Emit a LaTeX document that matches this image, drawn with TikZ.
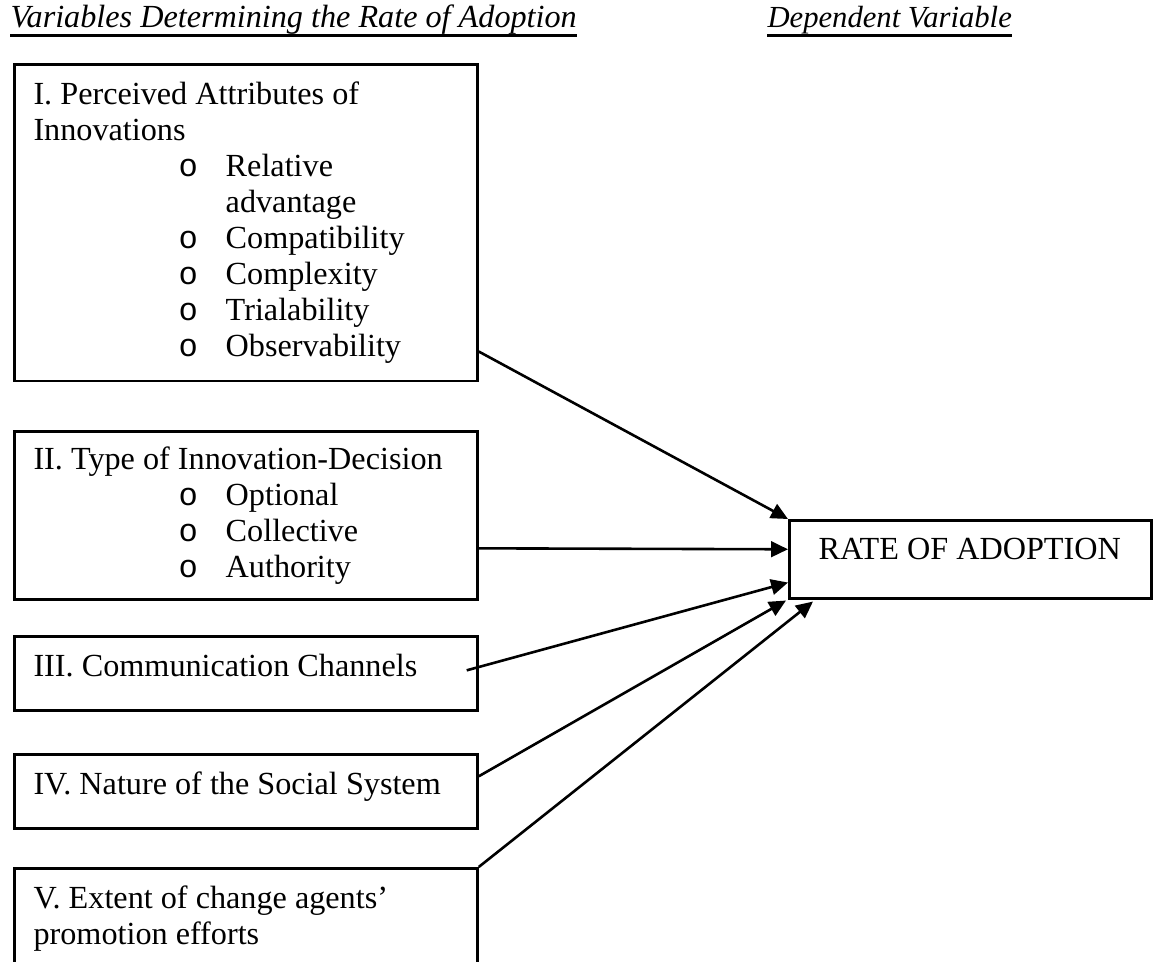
\documentclass[tikz,border=0pt]{standalone}
\usepackage{fontspec}
\setmainfont{Liberation Serif}
\newfontfamily\bulfont{Liberation Mono}
\usepackage{tikz}
\usetikzlibrary{positioning,calc,arrows.meta}
% one unit = one pixel of the layout
\newcommand{\itm}[1]{\hspace*{55.9pt}\makebox[18.1pt][l]{\bulfont o}#1}
\newcommand{\itmcont}[1]{\hspace*{74pt}#1}
\tikzset{
  varbox/.style={draw=black, line width=1pt, minimum width=178.3pt, anchor=north west, inner sep=0pt},
  boxtext/.style={anchor=north west, inner sep=0pt, align=left, font=\fontsize{12.4}{13.85}\selectfont},
  heading/.style={anchor=base west, inner sep=0pt, font=\fontsize{12.4}{13.85}\selectfont\itshape},
  link/.style={line width=1pt, -{Triangle[length=6.5pt,width=6pt]}}
}
\begin{document}
\begin{tikzpicture}[x=0.385pt, y=-0.385pt]
      \useasboundingbox (0,0) rectangle (1155,961);
      % headings
      \node[heading] (hvar) at (10,27) {Variables Determining the Rate of Adoption};
      \node[heading, font=\fontsize{11.8}{13.85}\selectfont\itshape] (hdep) at (767,27) {Dependent Variable};
      \draw[line width=0.9pt] ([yshift=-3.3pt]hvar.base west) -- ([yshift=-3.3pt]hvar.base east);
      \draw[line width=0.9pt] ([yshift=-3.3pt]hdep.base west) -- ([yshift=-3.3pt]hdep.base east);
      % independent variables
      \node[varbox, minimum height=122pt] (attr) at (13,63) {};
      \node[varbox, minimum height=64.7pt] (decision) at (13,430) {};
      \node[varbox, minimum height=28.5pt] (channels) at (13,635) {};
      \node[varbox, minimum height=28.5pt] (social) at (13,753) {};
      \node[varbox, minimum height=100pt] (agents) at (13,867) {};
      \node[boxtext] (attrtxt) at ([shift={(20,18.5)}]attr.north west) {I. Perceived Attributes of\\
        Innovations\\
        \itm{Relative}\\
        \itmcont{advantage}\\
        \itm{Compatibility}\\
        \itm{Complexity}\\
        \itm{Trialability}\\
        \itm{Observability}};
      \node[boxtext] (decisiontxt) at ([shift={(20,16.2)}]decision.north west) {II. Type of Innovation-Decision\\
        \itm{Optional}\\
        \itm{Collective}\\
        \itm{Authority}};
      \node[boxtext] (channelstxt) at ([shift={(20,18.2)}]channels.north west) {III. Communication Channels};
      \node[boxtext] (socialtxt) at ([shift={(20,18.2)}]social.north west) {IV. Nature of the Social System};
      \node[boxtext] (agentstxt) at ([shift={(20,18.5)}]agents.north west) {V. Extent of change agents'\\
        promotion efforts};
      % dependent variable
      \node[draw=black, line width=1pt, anchor=north west, minimum width=139.4pt, minimum height=30pt, inner sep=0pt] (rate) at (788,519) {};
      \node[boxtext] (ratetxt) at ([shift={(30,19)}]rate.north west) {RATE OF ADOPTION};
      % links
      \draw[link] ([shift={(0,-31)}]attr.south east) -- (rate.north west);
      \draw[link] ([shift={(0,33)}]decision.east) -- ([shift={(0,-10)}]rate.west);
      \draw[link] ([shift={(-12,-3)}]channels.east) -- ([shift={(0,-17)}]rate.south west);
      \draw[link] ([shift={(0,-15)}]social.east) -- ([shift={(-2,1)}]rate.south west);
      \draw[link] (agents.north east) -- ([shift={(25,2)}]rate.south west);
\end{tikzpicture}
\end{document}
